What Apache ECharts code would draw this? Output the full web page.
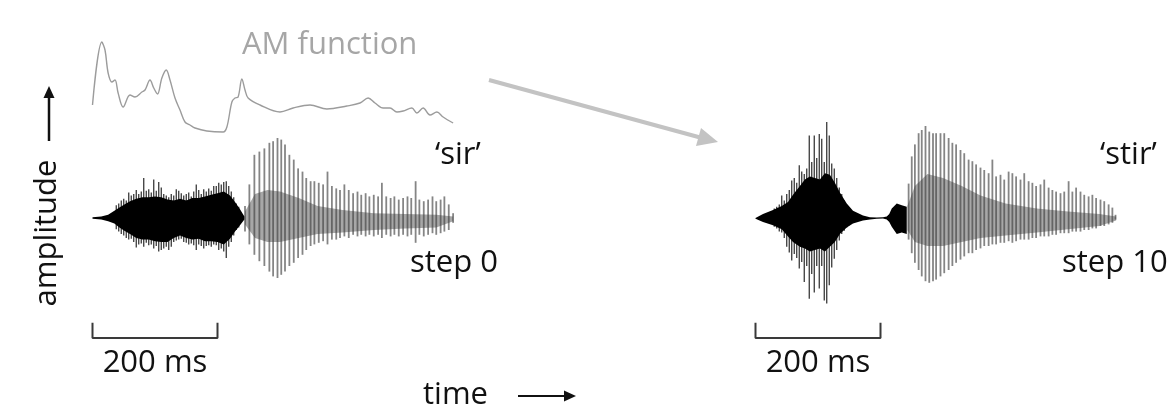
<!DOCTYPE html>
<html><head><meta charset="utf-8">
<script src="https://cdn.jsdelivr.net/npm/echarts@6/dist/echarts.min.js"></script>
<style>html,body{margin:0;padding:0;background:#fff}#c{width:1173px;height:408px}</style>
</head><body><div id="c"></div>
<script>
// ---------- DATA (time in ms, amplitude in arbitrary units) ----------
// AM function of 'sir'
const amTimes  = [0,15,20,25,31,36,41,49,60,68,79,84,92,98,104,111,118,124,132,140,148,156,164,183,209,215,223,228,233,239,244,249,268,300,321,348,375,407,428,441,452,465,476,487,497,511,519,529,540,551,561,577];
const amValues = [0.29,0.92,0.84,0.61,0.52,0.54,0.41,0.27,0.39,0.37,0.42,0.44,0.54,0.46,0.40,0.56,0.64,0.54,0.36,0.24,0.12,0.09,0.06,0.03,0.02,0.07,0.32,0.36,0.37,0.55,0.44,0.36,0.29,0.22,0.26,0.29,0.25,0.28,0.31,0.36,0.31,0.26,0.26,0.22,0.23,0.26,0.21,0.26,0.19,0.22,0.17,0.11];

// 'sir' (step 0): fricative body envelope
const sirFricTimes = [0,14,25,35,43,51,60,70,80,90,100,110,120,130,140,150,160,170,180,190,200,210,220,228,236,243];
const sirFricUpper = [1,2,4,9,13,17,21,24,26,26,27,26,23,22,24,22,25,25,27,29,31,33,28,20,11,2];
const sirFricLower = [-1,-2,-4,-7,-12,-16,-20,-25,-27,-27,-29,-30,-30,-25,-22,-25,-27,-26,-29,-29,-30,-33,-26,-17,-9,-2];
// 'sir' fricative noise peaks
const sirNoiseTimes  = [38,42,46,50,54,58,62,66,70,74,78,82,86,90,94,98,102,106,110,114,118,122,126,130,134,138,142,146,150,154,158,162,166,170,174,178,182,186,190,194,198,202,206,210,214,218,222,226,230,234];
const sirNoiseTop    = [16,18,22,24,22,32,28,30,35,30,33,50,34,36,32,48,34,45,38,30,28,26,30,28,36,34,31,28,30,32,27,33,42,35,30,36,33,37,34,40,40,44,42,45,46,40,33,26,18,14];
const sirNoiseBottom = [-14,-17,-20,-22,-25,-27,-26,-30,-37,-33,-32,-36,-31,-34,-33,-38,-35,-42,-40,-38,-36,-40,-36,-30,-28,-27,-26,-30,-31,-33,-32,-34,-40,-33,-35,-38,-35,-34,-36,-33,-34,-40,-38,-42,-50,-36,-30,-22,-15,-12];
// 'sir' voiced pitch pulses
const sirVoiceTimes  = [244,251,259,267,275,283,289,296,302,308,315,322,329,336,342,349,355,362,369,376,383,390,396,403,410,417,424,430,437,443,450,457,463,470,477,483,490,497,504,510,517,523,530,537,544,550,557,563,570,577];
const sirVoiceTop    = [15,42,79,83,87,94,96,100,98,92,79,73,62,58,50,46,46,44,42,58,40,37,35,42,35,31,33,29,31,27,29,27,44,27,25,27,23,25,27,25,46,23,21,23,27,21,23,27,17,6];
const sirVoiceBottom = [-17,-33,-46,-54,-60,-67,-73,-75,-71,-67,-60,-56,-50,-46,-40,-35,-33,-31,-29,-33,-27,-27,-25,-23,-25,-21,-23,-21,-23,-21,-23,-21,-25,-21,-23,-21,-23,-21,-23,-21,-31,-21,-23,-21,-19,-21,-19,-17,-15,-6];
// 'sir' dense band around the zero line
const sirBandTimes = [244,260,280,300,330,360,400,450,500,550,577];
const sirBandUpper = [8,30,35,33,25,15,10,6,5,4,2];
const sirBandLower = [-8,-25,-30,-30,-25,-20,-18,-15,-13,-12,-4];

// 'stir' (step 10): fricative + closure + burst body envelope
const stirFricTimes = [0,12,28,42,52,60,71,79,87,95,103,111,119,127,135,146,156,172,183,194,204,210,214,218,226,234,242];
const stirFricUpper = [0,5,10,15,20,29,40,48,52,50,48,56,54,44,32,18,9,3,1,0.5,1,2,5,12,18,16,14];
const stirFricLower = [-1,-5,-9,-14,-23,-30,-36,-38,-42,-40,-38,-42,-36,-30,-20,-12,-7,-3,-2,-1,-0.5,-2,-5,-11,-20,-18,-20];
// 'stir' fricative noise peaks
const stirNoiseTimes  = [30,34,38,42,46,50,54,58,62,66,70,74,78,82,86,90,94,98,102,106,110,114,118,122,126,130,134,138,142,146,150];
const stirNoiseTop    = [12,14,17,28,22,30,35,47,50,44,66,58,55,62,103,70,103,75,105,99,70,120,103,68,62,50,38,30,22,16,12];
const stirNoiseBottom = [-11,-13,-17,-18,-25,-36,-43,-53,-45,-50,-63,-55,-80,-60,-101,-70,-93,-60,-88,-60,-103,-107,-84,-62,-51,-40,-28,-20,-16,-12,-9];
// 'stir' voiced pitch pulses
const stirVoiceTimes  = [245,250,255,261,266,272,278,284,289,296,302,309,315,321,328,334,341,347,353,360,366,373,379,385,392,398,405,411,417,424,430,437,443,449,456,462,469,475,481,488,494,501,507,513,520,526,533,539,545,552,558,565,571,576];
const stirVoiceTop    = [43,77,92,106,110,115,108,106,106,106,106,100,94,92,85,81,73,71,67,63,60,56,73,52,54,48,58,56,52,48,56,46,44,40,42,48,38,35,33,31,33,46,33,38,33,29,27,29,25,23,21,17,13,4];
const stirVoiceBottom = [-27,-44,-56,-65,-73,-79,-81,-79,-77,-73,-69,-65,-60,-56,-52,-48,-44,-44,-40,-38,-35,-35,-33,-33,-31,-31,-29,-31,-29,-27,-27,-27,-25,-25,-23,-23,-23,-21,-21,-19,-19,-19,-17,-17,-17,-15,-15,-13,-13,-10,-10,-8,-6,-2];
// 'stir' dense band around the zero line
const stirBandTimes = [243,255,275,300,330,360,400,450,500,550,577];
const stirBandUpper = [15,40,55,50,40,28,18,12,8,5,2];
const stirBandLower = [-15,-30,-35,-35,-30,-25,-22,-18,-14,-10,-3];

// time scale bar
const scaleBarMs = 200;
const scaleBarLabel = '200 ms';

// ---------- CHART ----------
const FONT = '"Open Sans", "Noto Sans", sans-serif';
const FS = 31;
const BR_TOP = -131, BR_BOT = -150; // bracket vertical placement (layout)

function envelope(xi, times, up, lo, color, opacity, z) {
  return {
    type: 'custom', xAxisIndex: xi, yAxisIndex: xi, silent: true, z: z,
    data: times.map((t, i) => [t, up[i], lo[i]]),
    renderItem: function (params, api) {
      if (params.dataIndex !== 0) return;
      const pts = [];
      for (let i = 0; i < times.length; i++) pts.push(api.coord([times[i], up[i]]));
      for (let i = times.length - 1; i >= 0; i--) pts.push(api.coord([times[i], lo[i]]));
      return { type: 'polygon', shape: { points: pts }, style: { fill: color, opacity: opacity } };
    }
  };
}
function pulses(xi, times, top, bot, color, width, z) {
  return {
    type: 'custom', xAxisIndex: xi, yAxisIndex: xi, silent: true, z: z,
    data: times.map((t, i) => [t, top[i], bot[i]]),
    renderItem: function (params, api) {
      const a = api.coord([api.value(0), api.value(1)]);
      const b = api.coord([api.value(0), api.value(2)]);
      return { type: 'line', shape: { x1: a[0], y1: a[1], x2: b[0], y2: b[1] },
        style: { stroke: color, lineWidth: width } };
    }
  };
}
function bracket(xi) {
  return {
    type: 'line', xAxisIndex: xi, yAxisIndex: xi, silent: true, symbol: 'none',
    lineStyle: { color: '#3a3a3a', width: 2 },
    data: [[0, BR_TOP], [0, BR_BOT], [scaleBarMs, BR_BOT], [scaleBarMs, BR_TOP]]
  };
}
function txt(x, y, s, color, align, extra) {
  return Object.assign({
    type: 'text', x: x, y: y, silent: true,
    style: { text: s, font: FS + 'px ' + FONT, fill: color || '#111',
      align: align || 'left', textAlign: align || 'left',
      verticalAlign: 'middle', textVerticalAlign: 'middle' }
  }, extra || {});
}

const chart = echarts.init(document.getElementById('c'), null, { renderer: 'canvas' });
const waveY = { type: 'value', min: -160, max: 130, show: false };
const waveX = { type: 'value', min: -20, max: 620, show: false };
chart.setOption({
  animation: false,
  backgroundColor: '#fff',
  grid: [
    { left: 80, width: 400, top: 114, height: 232 },
    { left: 743, width: 400, top: 114, height: 232 },
    { left: 80, width: 400, top: 34, height: 100 }
  ],
  xAxis: [Object.assign({ gridIndex: 0 }, waveX), Object.assign({ gridIndex: 1 }, waveX), Object.assign({ gridIndex: 2 }, waveX)],
  yAxis: [Object.assign({ gridIndex: 0 }, waveY), Object.assign({ gridIndex: 1 }, waveY),
          { gridIndex: 2, type: 'value', min: 0, max: 1, show: false }],
  series: [
    // AM function
    { type: 'line', xAxisIndex: 2, yAxisIndex: 2, silent: true, symbol: 'none', smooth: 0.35,
      lineStyle: { color: '#9c9c9c', width: 1.4 },
      data: amTimes.map((t, i) => [t, amValues[i]]) },
    // sir
    pulses(0, sirVoiceTimes, sirVoiceTop, sirVoiceBottom, '#858585', 1.8, 2),
    envelope(0, sirBandTimes, sirBandUpper, sirBandLower, '#3c3c3c', 0.45, 3),
    pulses(0, sirNoiseTimes, sirNoiseTop, sirNoiseBottom, '#2a2a2a', 1.2, 4),
    envelope(0, sirFricTimes, sirFricUpper, sirFricLower, '#000', 1, 5),
    // stir
    pulses(1, stirVoiceTimes, stirVoiceTop, stirVoiceBottom, '#858585', 1.8, 2),
    envelope(1, stirBandTimes, stirBandUpper, stirBandLower, '#3c3c3c', 0.45, 3),
    pulses(1, stirNoiseTimes, stirNoiseTop, stirNoiseBottom, '#2a2a2a', 1.2, 4),
    envelope(1, stirFricTimes, stirFricUpper, stirFricLower, '#000', 1, 5),
    // scale bars
    bracket(0), bracket(1)
  ],
  graphic: [
    txt(242, 45, 'AM function', '#a6a6a6'),
    txt(435, 155, '\u2018sir\u2019'),
    txt(410, 263, 'step 0'),
    txt(1100, 155, '\u2018stir\u2019'),
    txt(1062, 263, 'step 10'),
    txt(155, 363, scaleBarLabel, '#111', 'center'),
    txt(818, 363, scaleBarLabel, '#111', 'center'),
    txt(423, 395, 'time'),
    txt(47, 233, 'amplitude', '#111', 'center', { rotation: Math.PI / 2 }),
    // grey arrow
    { type: 'line', silent: true, shape: { x1: 489, y1: 80, x2: 702, y2: 138 }, style: { stroke: '#c3c3c3', lineWidth: 4 } },
    { type: 'polygon', silent: true, shape: { points: [[718, 142], [696, 146], [701, 128]] }, style: { fill: '#c3c3c3' } },
    // amplitude arrow
    { type: 'line', silent: true, shape: { x1: 49, y1: 141, x2: 49, y2: 95 }, style: { stroke: '#111', lineWidth: 2.5 } },
    { type: 'polygon', silent: true, shape: { points: [[49, 86], [43.5, 98], [54.5, 98]] }, style: { fill: '#111' } },
    // time arrow
    { type: 'line', silent: true, shape: { x1: 518, y1: 396, x2: 566, y2: 396 }, style: { stroke: '#111', lineWidth: 2 } },
    { type: 'polygon', silent: true, shape: { points: [[576, 396], [564, 390.5], [564, 401.5]] }, style: { fill: '#111' } }
  ]
});
</script>
</body></html>
